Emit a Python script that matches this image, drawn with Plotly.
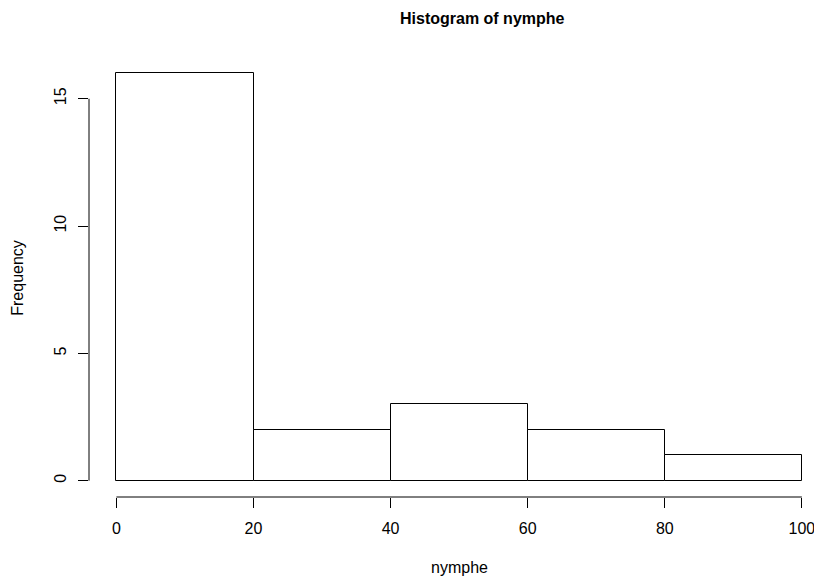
import plotly.graph_objects as go

# Data
bin_edges = [0, 20, 40, 60, 80, 100]
counts = [16, 2, 3, 2, 1]
x_ticks = [0, 20, 40, 60, 80, 100]
y_ticks = [0, 5, 10, 15]
title_text = "Histogram of nymphe"
x_label = "nymphe"
y_label = "Frequency"

mids = [(a + b) / 2 for a, b in zip(bin_edges[:-1], bin_edges[1:])]
widths = [b - a for a, b in zip(bin_edges[:-1], bin_edges[1:])]

FONT = "Liberation Sans, Arial, Helvetica, sans-serif"

fig = go.Figure()
fig.add_trace(go.Bar(
    x=mids, y=counts, width=widths,
    marker=dict(color="white", line=dict(color="black", width=1)),
    showlegend=False, hoverinfo="skip",
))

# the page body adds an 8px offset; compensate
OFF = 8
W, H = 822 - OFF, 582 - OFF
L, R, T, B = 89 - OFF, 7, 56.5 - OFF, 85.4

fig.update_layout(
    width=W, height=H,
    margin=dict(l=L, r=R, t=T, b=B, pad=0),
    paper_bgcolor="white", plot_bgcolor="white",
    font=dict(family=FONT, size=16, color="black"),
    bargap=0,
    showlegend=False,
    xaxis=dict(
        range=[-4, 101.48],
        tickmode="array", tickvals=x_ticks, ticktext=[str(v) for v in x_ticks],
        ticks="outside", ticklen=10, tickwidth=1, tickcolor="black",
        showline=False, showgrid=False, zeroline=False,
        ticklabelstandoff=7, ticklabeloverflow="allow",
        tickfont=dict(family=FONT, size=16, color="black"),
    ),
    yaxis=dict(
        range=[-0.64, 16.64],
        tickmode="array", tickvals=y_ticks, ticktext=[str(v) for v in y_ticks],
        ticks="outside", ticklen=10, tickwidth=1, tickcolor="black",
        tickangle=-90,
        showline=False, showgrid=False, zeroline=False,
        ticklabelstandoff=6, ticklabeloverflow="allow",
        tickfont=dict(family=FONT, size=16, color="black"),
    ),
)

# Axis lines spanning only the tick range (R style)
fig.add_shape(type="line", xref="x", yref="paper", x0=x_ticks[0], x1=x_ticks[-1], y0=0, y1=0,
              line=dict(color="black", width=1))
fig.add_shape(type="line", xref="paper", yref="y", x0=0, x1=0, y0=y_ticks[0], y1=y_ticks[-1],
              line=dict(color="black", width=1))

plot_w = W - L - R
plot_h = H - T - B
# Title
fig.add_annotation(text="<b>" + title_text + "</b>", xref="paper", yref="paper",
                   x=(484 - OFF - L) / plot_w, y=1 + (T - (18 - OFF)) / plot_h,
                   xanchor="center", yanchor="middle", showarrow=False,
                   font=dict(family=FONT, size=16, color="black"))
# Axis titles
fig.add_annotation(text=x_label, xref="paper", yref="paper",
                   x=(461 - OFF - L) / plot_w, y=-((567 - OFF) - (H - B)) / plot_h,
                   xanchor="center", yanchor="middle", showarrow=False,
                   font=dict(family=FONT, size=16, color="black"))
fig.add_annotation(text=y_label, xref="paper", yref="paper",
                   x=-(L - (17 - OFF)) / plot_w, y=(H - B - (277 - OFF)) / plot_h,
                   xanchor="center", yanchor="middle", showarrow=False, textangle=-90,
                   font=dict(family=FONT, size=16, color="black"))

fig.write_html("out.html")
